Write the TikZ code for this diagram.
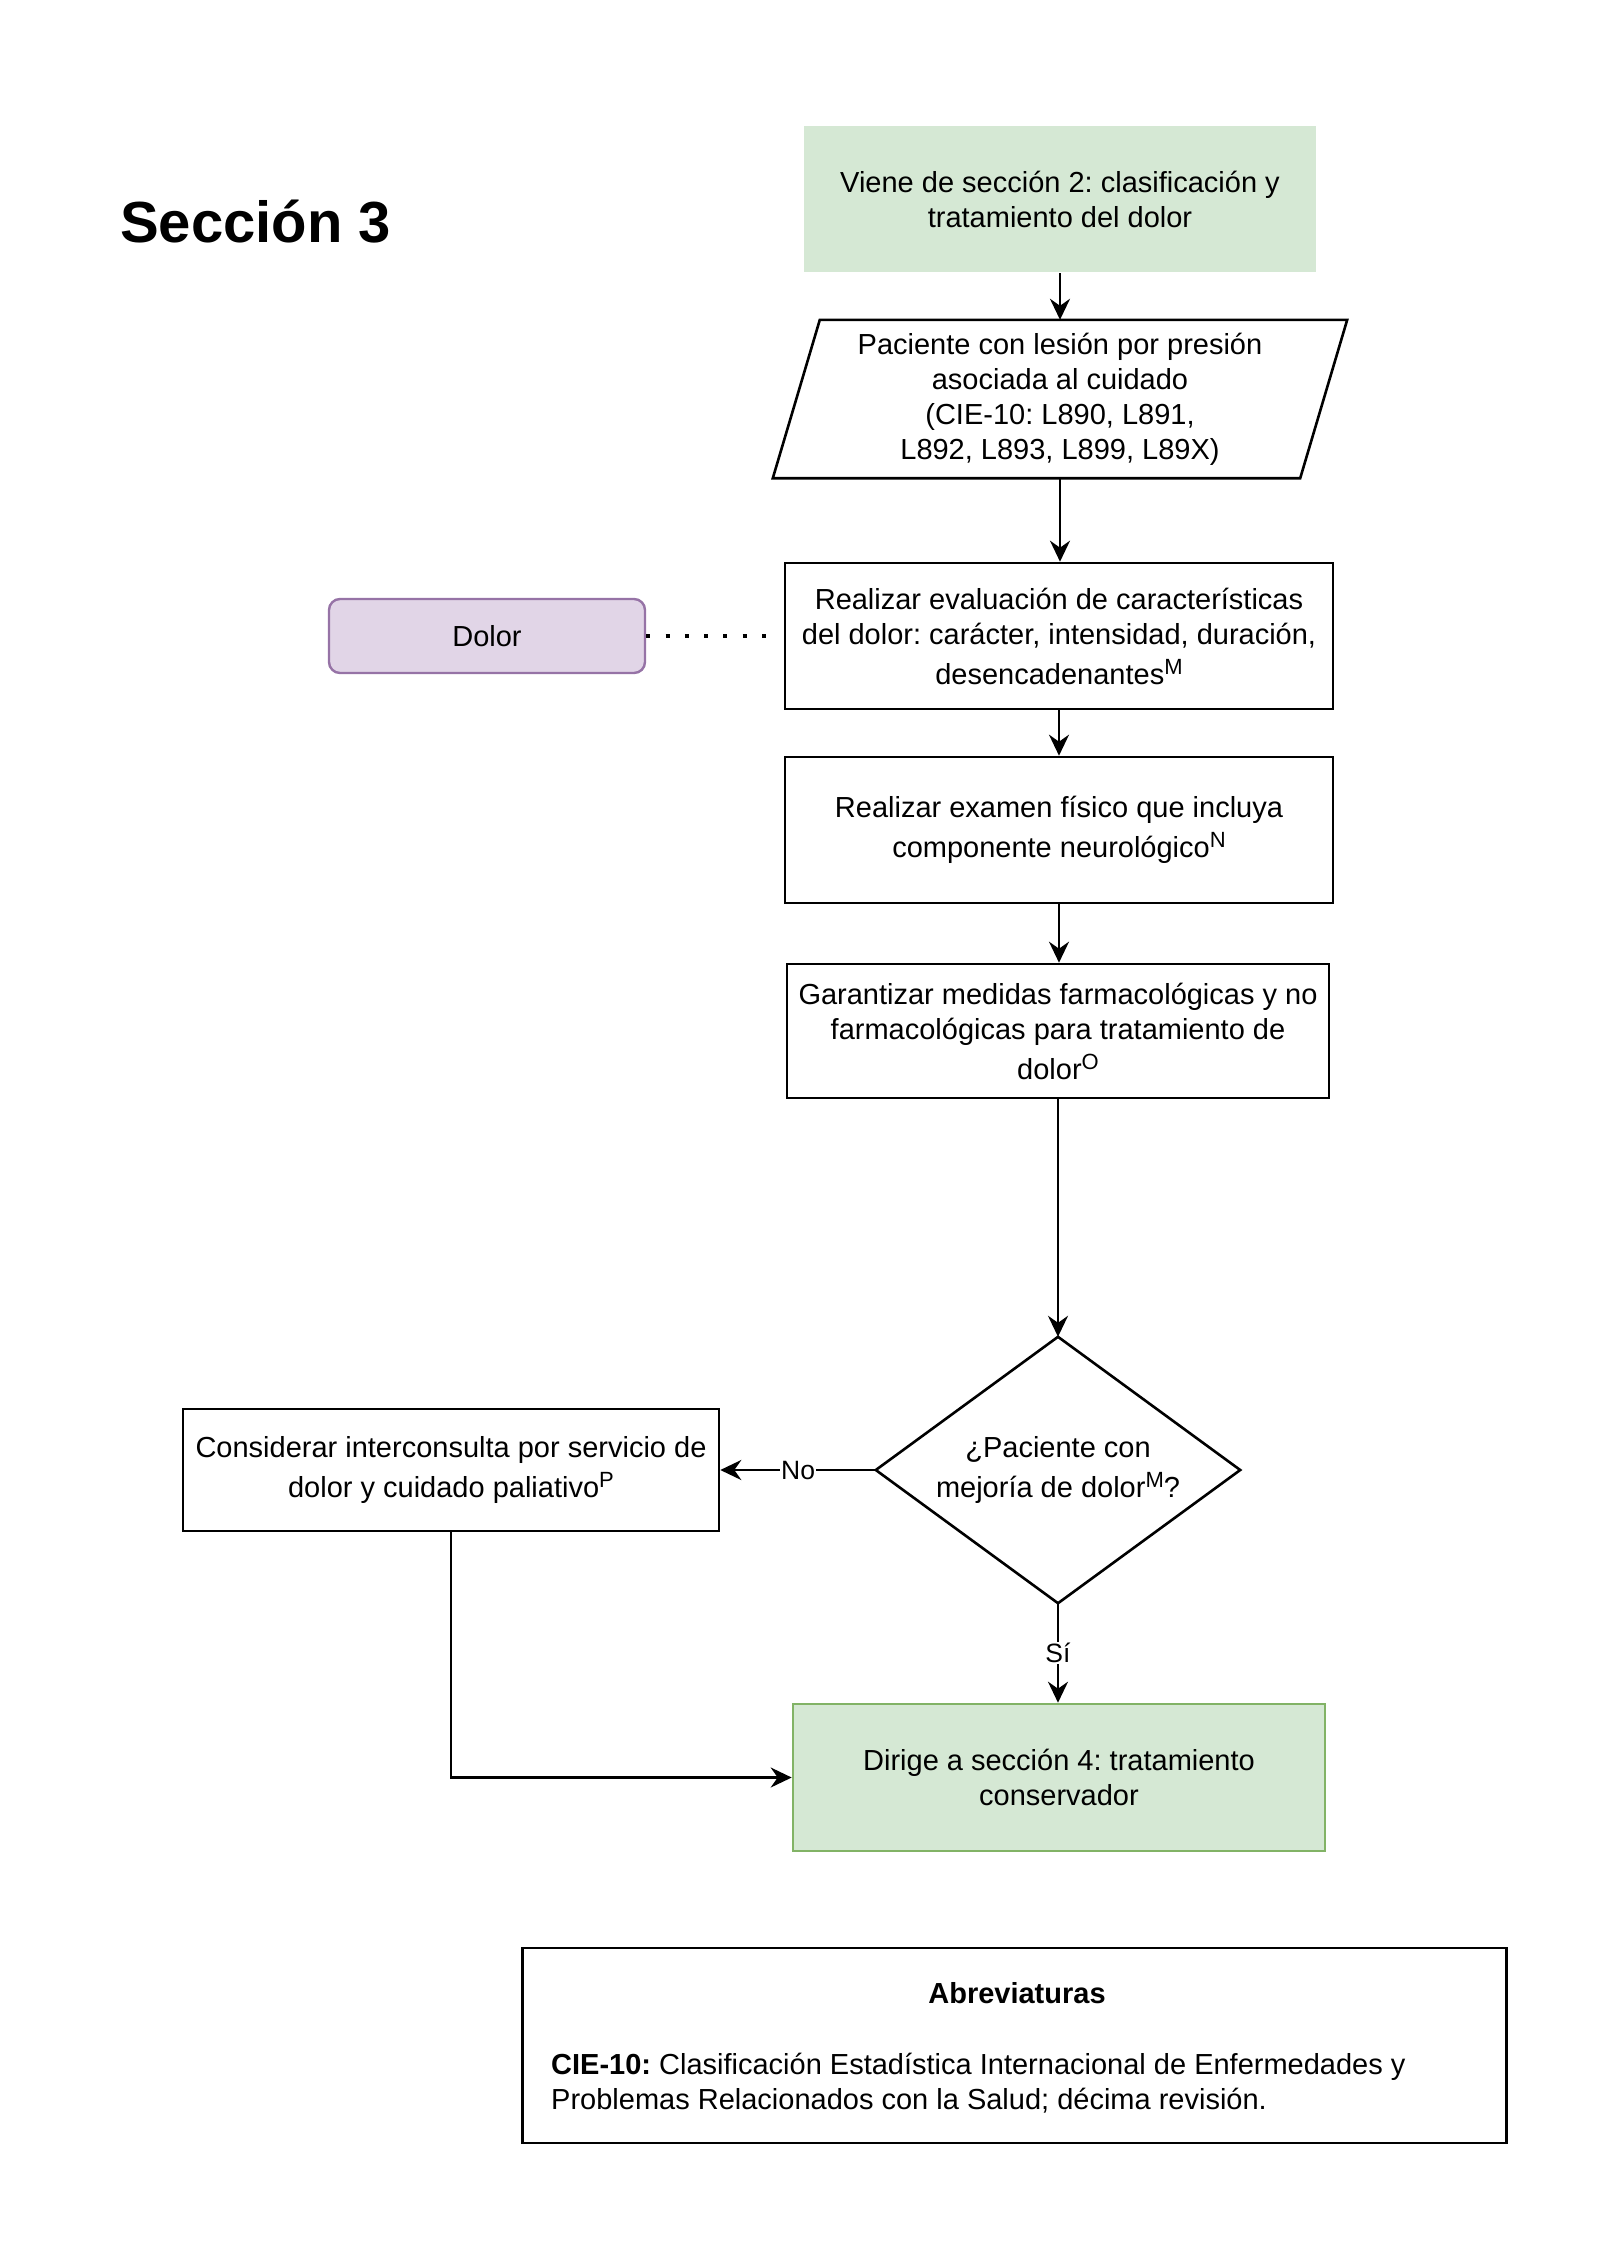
\documentclass[tikz,border=0pt]{standalone}
\usepackage{fontspec}
\setmainfont{Liberation Sans}
\usetikzlibrary{arrows.meta,calc}
\definecolor{gfill}{HTML}{D5E8D4}
\definecolor{gline}{HTML}{82B366}
\definecolor{pfill}{HTML}{E1D5E7}
\definecolor{pline}{HTML}{9673A6}
\newcommand{\supr}[1]{\raisebox{10pt}{\fontsize{22}{22}\selectfont #1}}
\frenchspacing
\begin{document}
\begin{tikzpicture}[x=1pt,y=-1pt,
  txt/.style={font=\fontsize{29}{35}\selectfont, align=center, inner sep=0pt},
  box/.style={txt, draw, line width=2.6pt},
  shapeline/.style={line width=2.6pt},
  arr/.style={-{Stealth[length=21pt,width=20pt,inset=7pt]}, line width=2.6pt},
  dotline/.style={line width=4pt, dash pattern=on 4pt off 15.3pt, line cap=butt},
  lbl/.style={fill=white, inner sep=1.5pt, font=\fontsize{26.5}{30}\selectfont},
  heading/.style={inner sep=0pt, font=\fontsize{58}{62}\selectfont\bfseries},
]
\useasboundingbox (0,0) rectangle (1600,2250);

% heading
\node[heading, anchor=base west] (title) at (120,243) {Sección 3};

% top green box
\node[box, fill=gfill, draw=none, minimum width=512pt, minimum height=146pt] (g1) at (1060,199)
  {Viene de sección 2: clasificación y\\tratamiento del dolor};

% parallelogram
\node[txt, minimum width=574pt, minimum height=158pt] (p) at (1060,399)
  {Paciente con lesión por presión\\asociada al cuidado\\(CIE-10: L890, L891,\\L892, L893, L899, L89X)};
\draw[shapeline] ($(p.north west)+(47,0)$) -- (p.north east) -- ($(p.south east)+(-47,0)$) -- (p.south west) -- cycle;

% evaluation box
\node[box, minimum width=548pt, minimum height=146pt] (b3) at (1059,636)
  {Realizar evaluación de características\\del dolor: carácter, intensidad, duración,\\[5pt]desencadenantes\supr{M}};

% Dolor
\node[txt, draw=pline, fill=pfill, line width=2.4pt, rounded corners=11pt,
      minimum width=316pt, minimum height=74pt] (dolor) at (487,636) {Dolor};

% physical exam
\node[box, minimum width=548pt, minimum height=146pt] (b4) at (1059,830)
  {Realizar examen físico que incluya\\[5pt]componente neurológico\supr{N}};

% measures
\node[box, minimum width=542pt, minimum height=134pt] (b5) at (1058,1031)
  {Garantizar medidas farmacológicas y no\\farmacológicas para tratamiento de\\[5pt]dolor\supr{O}};

% decision
\node[txt, minimum width=364pt, minimum height=266pt] (d) at (1058,1470)
  {¿Paciente con\\[5pt]mejoría de dolor\supr{M}?};
\draw[shapeline] (d.north) -- (d.east) -- (d.south) -- (d.west) -- cycle;

% interconsulta
\node[box, minimum width=536pt, minimum height=122pt] (b6) at (451,1470)
  {Considerar interconsulta por servicio de\\[5pt]dolor y cuidado paliativo\supr{P}};

% bottom green
\node[box, fill=gfill, draw=gline, minimum width=532pt, minimum height=147pt] (g7) at (1059,1777.5)
  {Dirige a sección 4: tratamiento\\conservador};

% abbreviations
\node[draw, line width=2.6pt, minimum width=984pt, minimum height=195pt, inner sep=0pt] (ab) at (1014.7,2045.5) {};
\node[txt, anchor=base, font=\fontsize{29}{35}\selectfont\bfseries] (abt) at (1017,2003) {Abreviaturas};
\node[txt, anchor=base west] (abx1) at (551,2074)
  {\textbf{CIE-10:} Clasificación Estadística Internacional de Enfermedades y};
\node[txt, anchor=base west] (abx2) at (551,2109)
  {Problemas Relacionados con la Salud; décima revisión.};

% connectors
\draw[arr] (g1.south) -- (g1.south |- p.north);
\draw[arr] (p.south) -- (p.south |- b3.north);
\draw[arr] (b3.south) -- (b3.south |- b4.north);
\draw[arr] (b4.south) -- (b4.south |- b5.north);
\draw[arr] (b5.south) -- (b5.south |- d.north);
\draw[dotline, shorten >=16pt] (dolor.east) -- (b3.west);
\draw[arr] (d.west) -- node[lbl] {No} (b6.east);
\draw[arr] (d.south) -- node[lbl] {Sí} (d.south |- g7.north);
\draw[arr] (b6.south) |- (g7.west);
\end{tikzpicture}
\end{document}
